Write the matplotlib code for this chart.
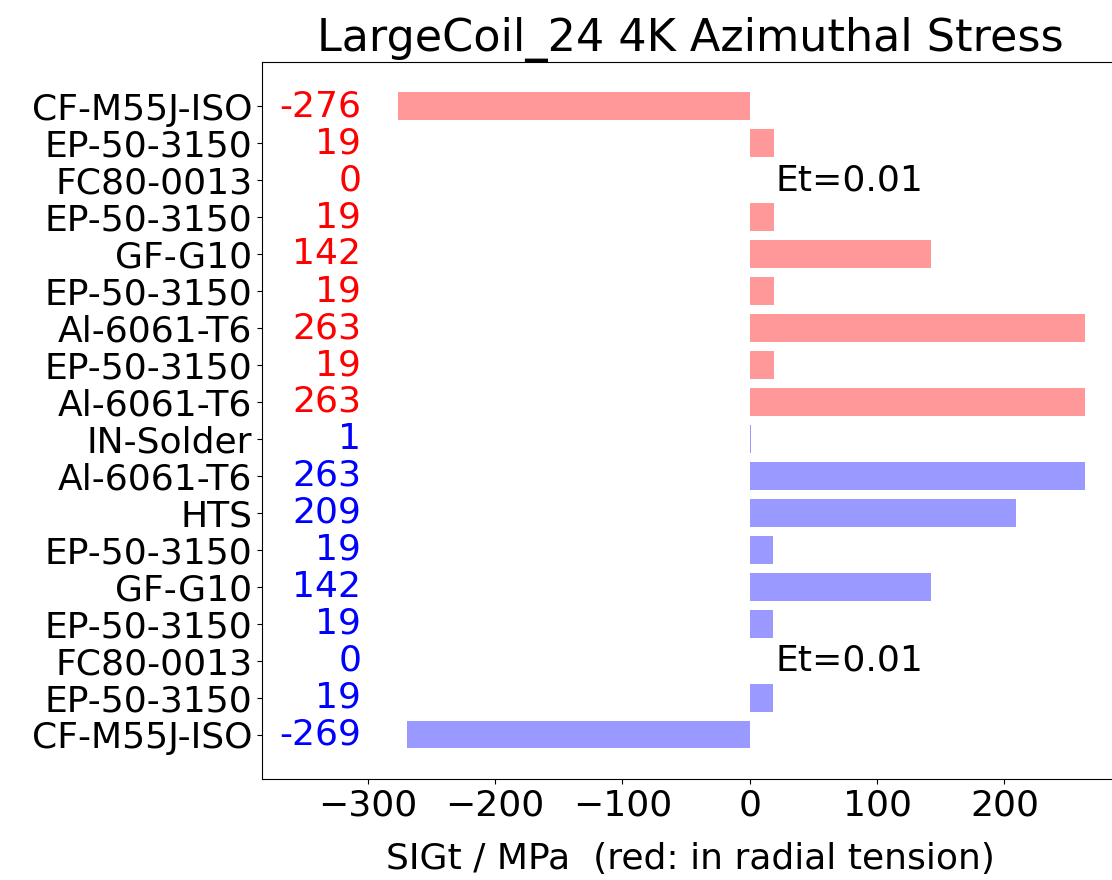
import matplotlib
matplotlib.use('Agg')
import matplotlib.pyplot as plt
import numpy as np

# Layers from outer (top) to inner (bottom)
layer_names = ['CF-M55J-ISO', 'EP-50-3150', 'FC80-0013', 'EP-50-3150', 'GF-G10',
               'EP-50-3150', 'Al-6061-T6', 'EP-50-3150', 'Al-6061-T6', 'IN-Solder',
               'Al-6061-T6', 'HTS', 'EP-50-3150', 'GF-G10', 'EP-50-3150',
               'FC80-0013', 'EP-50-3150', 'CF-M55J-ISO']
sig_t = [-276, 19.4, 0, 19.4, 142, 19.4, 263, 19.4, 263, 1,
         263, 209, 18.6, 142, 18.6, 0, 18.6, -269]
in_tension = [True] * 9 + [False] * 9
et_rows = [2, 15]
et_text = 'Et=0.01'

fs = 26
fig = plt.figure(figsize=(11.12, 8.8), dpi=100)
ax = fig.add_axes([0.2356, 0.1148, 0.7707, 0.8148])

y_pos = np.arange(len(layer_names))
bar_colors = ['r' if t else 'b' for t in in_tension]
ax.barh(y_pos, sig_t, height=0.75, color=bar_colors, alpha=0.4)

for yy, val, t in zip(y_pos, sig_t, in_tension):
    ax.text(-305, yy, '%.0f' % val, color='r' if t else 'b',
            ha='right', va='center', fontsize=fs)
for yy in et_rows:
    ax.text(20, yy, et_text, color='k', ha='left', va='center', fontsize=fs)

ax.set_yticks(y_pos)
ax.set_yticklabels(layer_names, fontsize=fs)
ax.set_xticks([-300, -200, -100, 0, 100, 200])
ax.tick_params(axis='x', labelsize=fs)
ax.set_xlim(-383, 290)
ax.set_ylim(len(layer_names) + 0.2, -1.2)
ax.set_xlabel('SIGt / MPa  (red: in radial tension)', fontsize=fs, labelpad=14)
ax.set_title('LargeCoil_24 4K Azimuthal Stress', fontsize=32)

fig.savefig('out.png', dpi=100)
